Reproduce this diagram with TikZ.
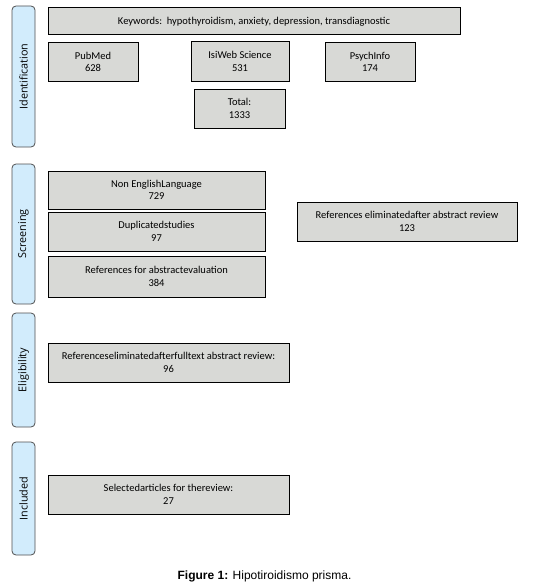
\documentclass[tikz,border=0pt]{standalone}
\usepackage{fontspec}
\setmainfont{Liberation Sans}
\newfontfamily\boxfont{Carlito}
\newfontfamily\sidefont{Open Sans}
\definecolor{boxgray}{RGB}{216,217,214}
\definecolor{sideblue}{RGB}{210,236,252}
\definecolor{sideedge}{RGB}{80,80,80}
\begin{document}
\begin{tikzpicture}[x=1pt,y=-1pt,
  stagebox/.style={draw=black,line width=1pt,fill=boxgray,inner sep=1pt,
    align=center,font=\boxfont\fontsize{10.5}{12.5}\selectfont},
  sidebar/.style={draw=sideedge,line width=0.8pt,fill=sideblue,rounded corners=4pt,
    rotate=90,inner sep=0pt,font=\sidefont\fontsize{10.8}{12}\selectfont,
    minimum height=23pt}]
\useasboundingbox (0,0) rectangle (552,586);
% side bars
\node[sidebar,minimum width=141pt] (sid) at (23.5,76.5) {Identification};
\node[sidebar,minimum width=140pt] (sscr) at (23.5,234) {Screening};
\node[sidebar,minimum width=114pt] (seli) at (23.5,370) {Eligibility};
\node[sidebar,minimum width=113pt] (sinc) at (23.5,498.5) {Included};
% identification
\node[stagebox,minimum width=412pt,minimum height=27pt] (kw) at (254,21.5) {Keywords:\ \ hypothyroidism, anxiety, depression, transdiagnostic};
\node[stagebox,minimum width=90pt,minimum height=38pt] (pub) at (93,62) {PubMed\\628};
\node[stagebox,minimum width=98pt,minimum height=39pt] (isi) at (240,61.5) {IsiWeb Science\\531};
\node[stagebox,minimum width=90pt,minimum height=38pt] (psy) at (370,62) {PsychInfo\\174};
\node[stagebox,minimum width=91pt,minimum height=39pt] (tot) at (239.5,108.5) {Total:\\1333};
% screening
\node[stagebox,minimum width=217pt,minimum height=38pt] (non) at (156.5,190) {Non EnglishLanguage\\729};
\node[stagebox,minimum width=217pt,minimum height=39pt] (dup) at (156.5,231.5) {Duplicatedstudies\\97};
\node[stagebox,minimum width=217pt,minimum height=41pt] (ref) at (156.5,276.5) {References for abstractevaluation\\384};
\node[stagebox,minimum width=220pt,minimum height=39pt] (elim) at (407,221.5) {References eliminatedafter abstract review\\123};
% eligibility
\node[stagebox,minimum width=241pt,minimum height=39pt] (eli) at (168.5,362.5) {Referenceseliminatedafterfulltext abstract review:\\96};
% included
\node[stagebox,minimum width=241pt,minimum height=39pt] (inc) at (168.5,494.5) {Selectedarticles for thereview:\\27};
% caption
\node[font=\fontsize{12}{14}\selectfont,inner sep=0pt] (cap) at (264.5,576.5) {\textbf{Figure 1:} Hipotiroidismo prisma.};
\end{tikzpicture}
\end{document}
